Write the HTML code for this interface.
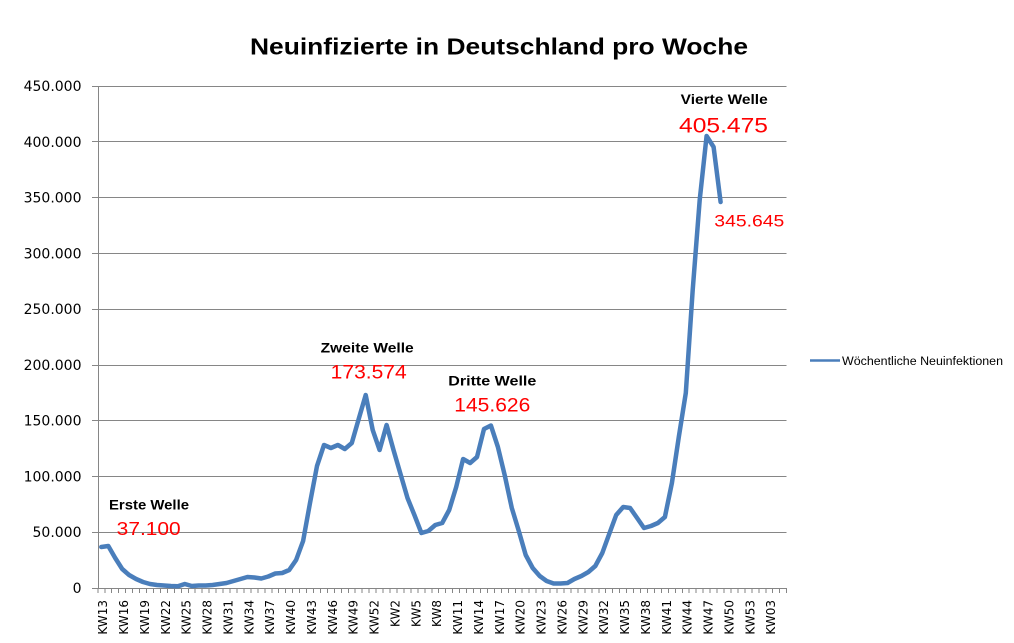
<!DOCTYPE html>
<html>
<head>
<meta charset="utf-8">
<style>
html,body{margin:0;padding:0;background:#fff;}
svg{display:block;}
</style>
</head>
<body>
<svg width="1014" height="643" viewBox="0 0 1014 643" xmlns="http://www.w3.org/2000/svg">
<rect x="0" y="0" width="1014" height="643" fill="#fff"/>

<!-- Title -->
<text x="250" y="54.3" font-family="Liberation Sans, sans-serif" font-weight="bold" font-size="23" textLength="498" lengthAdjust="spacingAndGlyphs" fill="#000">Neuinfizierte in Deutschland pro Woche</text>

<!-- Gridlines -->
<g stroke="#868686" stroke-width="1" shape-rendering="crispEdges">
<line x1="92" y1="86.5" x2="786.7" y2="86.5"/>
<line x1="92" y1="141.5" x2="786.7" y2="141.5"/>
<line x1="92" y1="197.5" x2="786.7" y2="197.5"/>
<line x1="92" y1="253.5" x2="786.7" y2="253.5"/>
<line x1="92" y1="309.5" x2="786.7" y2="309.5"/>
<line x1="92" y1="365.5" x2="786.7" y2="365.5"/>
<line x1="92" y1="420.5" x2="786.7" y2="420.5"/>
<line x1="92" y1="476.5" x2="786.7" y2="476.5"/>
<line x1="92" y1="532.5" x2="786.7" y2="532.5"/>
<line x1="92" y1="588.5" x2="786.7" y2="588.5"/>
<line x1="98.5" y1="86" x2="98.5" y2="589"/>
<path fill="none" d="M97.8 588v5M104.8 588v5M111.7 588v5M118.7 588v5M125.6 588v5M132.6 588v5M139.5 588v5M146.5 588v5M153.5 588v5M160.4 588v5M167.4 588v5M174.3 588v5M181.3 588v5M188.3 588v5M195.2 588v5M202.2 588v5M209.1 588v5M216.1 588v5M223 588v5M230 588v5M237 588v5M243.9 588v5M250.9 588v5M257.8 588v5M264.8 588v5M271.8 588v5M278.7 588v5M285.7 588v5M292.6 588v5M299.6 588v5M306.5 588v5M313.5 588v5M320.5 588v5M327.4 588v5M334.4 588v5M341.3 588v5M348.3 588v5M355.2 588v5M362.2 588v5M369.2 588v5M376.1 588v5M383.1 588v5M390 588v5M397 588v5M404 588v5M410.9 588v5M417.9 588v5M424.8 588v5M431.8 588v5M438.7 588v5M445.7 588v5M452.7 588v5M459.6 588v5M466.6 588v5M473.5 588v5M480.5 588v5M487.5 588v5M494.4 588v5M501.4 588v5M508.3 588v5M515.3 588v5M522.2 588v5M529.2 588v5M536.2 588v5M543.1 588v5M550.1 588v5M557 588v5M564 588v5M571 588v5M577.9 588v5M584.9 588v5M591.8 588v5M598.8 588v5M605.7 588v5M612.7 588v5M619.7 588v5M626.6 588v5M633.6 588v5M640.5 588v5M647.5 588v5M654.4 588v5M661.4 588v5M668.4 588v5M675.3 588v5M682.3 588v5M689.2 588v5M696.2 588v5M703.2 588v5M710.1 588v5M717.1 588v5M724 588v5M731 588v5M738 588v5M744.9 588v5M751.9 588v5M758.8 588v5M765.8 588v5M772.7 588v5M779.7 588v5M786.7 588v5"/>
</g>

<!-- Y labels -->
<g font-family="DejaVu Sans, sans-serif" font-size="14" fill="#000" text-anchor="end">
<text x="81.5" y="91">450.000</text>
<text x="81.5" y="147">400.000</text>
<text x="81.5" y="202.5">350.000</text>
<text x="81.5" y="258.5">300.000</text>
<text x="81.5" y="314">250.000</text>
<text x="81.5" y="370">200.000</text>
<text x="81.5" y="425.5">150.000</text>
<text x="81.5" y="481.5">100.000</text>
<text x="81.5" y="537">50.000</text>
<text x="81.5" y="593">0</text>
</g>

<!-- X labels -->
<g font-family="DejaVu Sans, sans-serif" font-size="12" fill="#000" text-anchor="end">
<text transform="translate(107.2,600) rotate(-90)">KW13</text>
<text transform="translate(128.1,600) rotate(-90)">KW16</text>
<text transform="translate(148.9,600) rotate(-90)">KW19</text>
<text transform="translate(169.8,600) rotate(-90)">KW22</text>
<text transform="translate(190.7,600) rotate(-90)">KW25</text>
<text transform="translate(211.6,600) rotate(-90)">KW28</text>
<text transform="translate(232.4,600) rotate(-90)">KW31</text>
<text transform="translate(253.3,600) rotate(-90)">KW34</text>
<text transform="translate(274.2,600) rotate(-90)">KW37</text>
<text transform="translate(295.1,600) rotate(-90)">KW40</text>
<text transform="translate(315.9,600) rotate(-90)">KW43</text>
<text transform="translate(336.8,600) rotate(-90)">KW46</text>
<text transform="translate(357.7,600) rotate(-90)">KW49</text>
<text transform="translate(378.6,600) rotate(-90)">KW52</text>
<text transform="translate(399.4,600) rotate(-90)">KW2</text>
<text transform="translate(420.3,600) rotate(-90)">KW5</text>
<text transform="translate(441.2,600) rotate(-90)">KW8</text>
<text transform="translate(462.1,600) rotate(-90)">KW11</text>
<text transform="translate(482.9,600) rotate(-90)">KW14</text>
<text transform="translate(503.8,600) rotate(-90)">KW17</text>
<text transform="translate(524.7,600) rotate(-90)">KW20</text>
<text transform="translate(545.6,600) rotate(-90)">KW23</text>
<text transform="translate(566.4,600) rotate(-90)">KW26</text>
<text transform="translate(587.3,600) rotate(-90)">KW29</text>
<text transform="translate(608.2,600) rotate(-90)">KW32</text>
<text transform="translate(629.1,600) rotate(-90)">KW35</text>
<text transform="translate(649.9,600) rotate(-90)">KW38</text>
<text transform="translate(670.8,600) rotate(-90)">KW41</text>
<text transform="translate(691.7,600) rotate(-90)">KW44</text>
<text transform="translate(712.5,600) rotate(-90)">KW47</text>
<text transform="translate(733.4,600) rotate(-90)">KW50</text>
<text transform="translate(754.3,600) rotate(-90)">KW53</text>
<text transform="translate(775.2,600) rotate(-90)">KW03</text>
</g>

<!-- Series -->
<polyline fill="none" stroke="#4A7EBB" stroke-width="4.5" stroke-linejoin="round" stroke-linecap="round" points="
101.3,547 108.3,546 115.2,558 122.2,569 129.1,575 136.1,579 143,582 150,584 157,585 163.9,585.5
170.9,586 177.8,586.3 184.8,584 191.8,586 198.7,585.5 205.7,585.5 212.6,585 219.6,584 226.5,583 233.5,581
240.5,579 247.4,577 254.4,577.5 261.3,578.5 268.3,576.5 275.3,573.5 282.2,573 289.2,570 296.1,560 303.1,541
310,503 317,466 324,445 330.9,448 337.9,445 344.8,449 351.8,443 358.7,419 365.7,395 372.7,430
379.6,450 386.6,425 393.5,450 400.5,474 407.5,498 414.4,515 421.4,533 428.3,531 435.3,525 442.2,523
449.2,510 456.2,487 463.1,459 470.1,463 477,457 484,429 490.9,425.5 497.9,447 504.9,476 511.8,508
518.8,531 525.7,555 532.7,568 539.7,576 546.6,581 553.6,583.5 560.5,583.5 567.5,583 574.4,579 581.4,576
588.4,572 595.3,566 602.3,553 609.2,534 616.2,515 623.2,507 630.1,508 637.1,518 644,528 651,526
657.9,523 664.9,517 671.9,483 678.8,437 685.8,393 692.7,290 699.7,200 706.6,136 713.6,147 720.6,202"/>

<!-- Annotations -->
<g font-family="Liberation Sans, sans-serif" font-weight="bold" font-size="13.5" fill="#000">
<text x="109" y="509.3" textLength="80" lengthAdjust="spacingAndGlyphs">Erste Welle</text>
<text x="320.7" y="352.3" textLength="93" lengthAdjust="spacingAndGlyphs">Zweite Welle</text>
<text x="448.3" y="385.7" textLength="88" lengthAdjust="spacingAndGlyphs">Dritte Welle</text>
<text x="680.7" y="104" textLength="87" lengthAdjust="spacingAndGlyphs">Vierte Welle</text>
</g>
<g font-family="Liberation Sans, sans-serif" fill="#FF0000">
<text x="116.7" y="535" font-size="18.5" textLength="64" lengthAdjust="spacingAndGlyphs">37.100</text>
<text x="330.7" y="378.3" font-size="19.5" textLength="76" lengthAdjust="spacingAndGlyphs">173.574</text>
<text x="454.3" y="411.7" font-size="19.5" textLength="76" lengthAdjust="spacingAndGlyphs">145.626</text>
<text x="679" y="132.7" font-size="21.5" textLength="89" lengthAdjust="spacingAndGlyphs">405.475</text>
<text x="714.3" y="226.7" font-size="16.3" textLength="70" lengthAdjust="spacingAndGlyphs">345.645</text>
</g>

<!-- Legend -->
<line x1="810" y1="360.5" x2="840" y2="360.5" stroke="#4A7EBB" stroke-width="2.5"/>
<text x="842" y="365" font-family="Liberation Sans, sans-serif" font-size="11.5" fill="#000" textLength="161" lengthAdjust="spacingAndGlyphs">Wöchentliche Neuinfektionen</text>
</svg>
</body>
</html>
